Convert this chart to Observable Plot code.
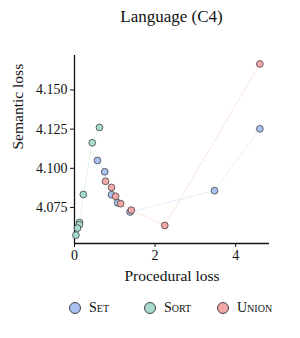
<!DOCTYPE html>
<html><head><meta charset="utf-8">
<script src="https://cdn.jsdelivr.net/npm/d3@7"></script>
<script src="https://cdn.jsdelivr.net/npm/@observablehq/plot@0.6"></script>
<style>
body{margin:0;background:#fff;font-family:'Liberation Serif',serif;}
#wrap{width:300px;height:338px;position:relative;}
#title{position:absolute;left:74px;width:195px;top:7px;text-align:center;font-size:17px;color:#111;}
#chart{position:absolute;left:0;top:40px;}
#chart svg, #chart svg text{font-family:'Liberation Serif',serif !important;}
#legend{position:absolute;top:300px;left:0;width:300px;font-size:14px;color:#111;font-variant:small-caps;}
.item{position:absolute;display:flex;align-items:center;}
.sw{width:10px;height:10px;border-radius:50%;border:1px solid #444;margin-right:8px;}
</style></head>
<body><div id="wrap"><div id="title">Language (C4)</div><div id="chart"></div><div id="legend"></div></div>
<script>
const series = ["Set", "Sort", "Union"];
const colors = ["#a9c2f2", "#a8dbd0", "#f2a8a6"];
const setX = [0.57, 0.75, 0.92, 1.07, 1.38, 3.475, 4.60];
const setY = [4.1050, 4.0978, 4.0831, 4.0780, 4.0721, 4.0857, 4.1252];
const sortX = [0.62, 0.44, 0.22, 0.125, 0.12, 0.075, 0.035];
const sortY = [4.1261, 4.1163, 4.0833, 4.0654, 4.0640, 4.0618, 4.0573];
const unionX = [0.77, 0.92, 1.02, 1.145, 1.41, 2.24, 4.60];
const unionY = [4.0917, 4.0878, 4.0821, 4.0774, 4.0733, 4.0635, 4.1666];
const xTicks = [0, 2, 4];
const yTicks = [4.075, 4.100, 4.125, 4.150];

const raw = {Set: [setX, setY], Sort: [sortX, sortY], Union: [unionX, unionY]};
const data = series.flatMap(s => raw[s][0].map((x, i) => ({series: s, x, y: raw[s][1][i]})));
const xDom = [0, 4.84], yDom = [4.052, 4.172];
const col = {domain: series, range: colors};

const chart = Plot.plot({
  width: 300, height: 250,
  marginLeft: 74, marginRight: 31, marginTop: 15, marginBottom: 47,
  style: {fontFamily: "'Liberation Serif', serif", fontSize: "14px", color: "#111", background: "white"},
  x: {domain: xDom, label: null},
  y: {domain: yDom, label: null},
  color: col,
  marks: [
    Plot.axisX({ticks: xTicks, tickSize: 4, tickPadding: 3, tickFormat: d3.format("d"), fontSize: 14, label: null}),
    Plot.axisY({ticks: yTicks, tickSize: 4, tickPadding: 3, tickFormat: d3.format(".3f"), fontSize: 14, label: null}),
    Plot.ruleX([xDom[0]], {stroke: "#111", strokeWidth: 1.3}),
    Plot.ruleY([yDom[0]], {stroke: "#111", strokeWidth: 1.3}),
    Plot.line(data, {x: "x", y: "y", z: "series", stroke: "series", strokeOpacity: 0.3, strokeWidth: 1}),
    Plot.dot(data, {x: "x", y: "y", fill: "series", stroke: "#444", strokeWidth: 0.8, r: 3.4}),
    Plot.text(["Procedural loss"], {frameAnchor: "bottom", dy: 37, fontSize: 15.5, fill: "#111"}),
    Plot.text(["Semantic loss"], {frameAnchor: "left", dx: -56, rotate: -90, fontSize: 15.5, fill: "#111"})
  ]
});
document.getElementById("chart").appendChild(chart);

const leg = document.getElementById("legend");
const lx = [69, 144, 217];
series.forEach((s, i) => {
  const d = document.createElement("div");
  d.className = "item";
  d.style.left = lx[i] + "px";
  d.innerHTML = `<span class="sw" style="background:${colors[i]}"></span><span>${s}</span>`;
  leg.appendChild(d);
});
</script></body></html>
